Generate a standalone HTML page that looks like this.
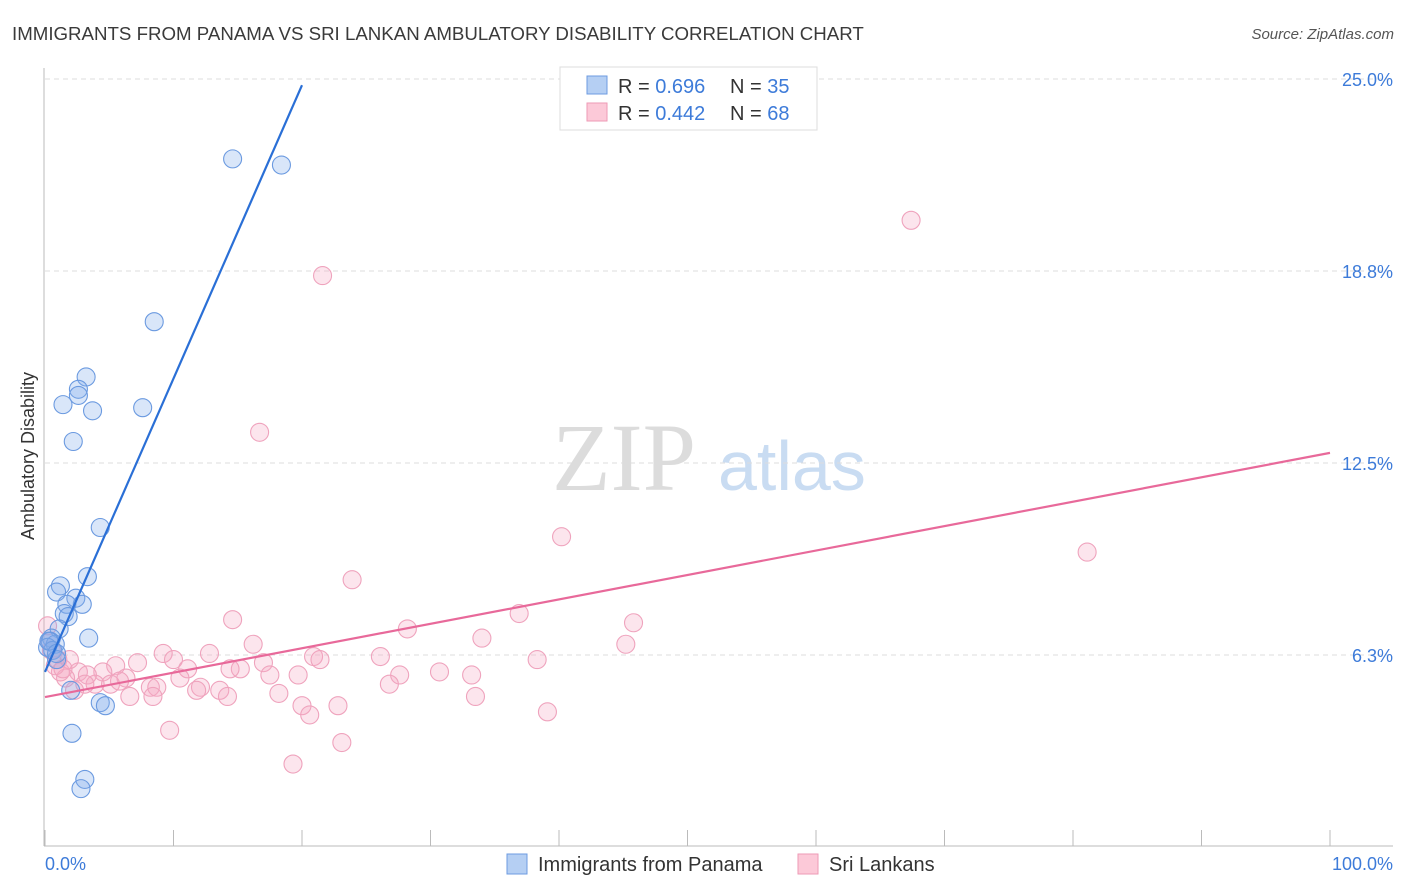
<!DOCTYPE html>
<html><head><meta charset="utf-8"><style>
body{margin:0;background:#fff;font-family:"Liberation Sans",sans-serif;}
svg{display:block}
</style></head><body>
<svg id="chart" width="1406" height="892" xmlns="http://www.w3.org/2000/svg">
<text x="12" y="40" font-size="18.7" fill="#3a3a3a">IMMIGRANTS FROM PANAMA VS SRI LANKAN AMBULATORY DISABILITY CORRELATION CHART</text>
<text x="1394" y="39" font-size="15" fill="#555" font-style="italic" text-anchor="end">Source: ZipAtlas.com</text>
<g>
<text x="552" y="490" font-family="Liberation Serif,serif" font-size="96" fill="#dcdcdc">ZIP</text>
<text x="718" y="490" font-size="70" fill="#c9dcf2">atlas</text>
</g>
<g id="grid"></g>
<line x1="44" y1="68" x2="44" y2="846" stroke="#bbb"/>
<line x1="44" y1="846" x2="1393" y2="846" stroke="#bbb"/>
<g id="xticks"></g>
<text x="45" y="870" font-size="18" fill="#3d7bd9">0.0%</text>
<text x="1393" y="870" font-size="18" fill="#3d7bd9" text-anchor="end">100.0%</text>
<text transform="translate(34,456) rotate(-90)" font-size="18" fill="#333" text-anchor="middle">Ambulatory Disability</text>
<g id="pink"></g>
<g id="blue"></g>
<g id="lines"></g>
<g>
<rect x="560" y="67" width="257" height="63" fill="#fff" stroke="#ddd"/>
<rect x="587" y="76" width="20" height="18" fill="#b5cff3" stroke="#6d9be0"/>
<rect x="587" y="103" width="20" height="18" fill="#fcc9d8" stroke="#ee9ab6"/>
<text x="618" y="93" font-size="20" fill="#333">R = <tspan fill="#3d7bd9">0.696</tspan><tspan x="730">N = </tspan><tspan fill="#3d7bd9">35</tspan></text>
<text x="618" y="120" font-size="20" fill="#333">R = <tspan fill="#3d7bd9">0.442</tspan><tspan x="730">N = </tspan><tspan fill="#3d7bd9">68</tspan></text>
</g>
<g>
<rect x="507" y="854" width="20" height="20" fill="#b5cff3" stroke="#6d9be0"/>
<text x="538" y="871" font-size="20" fill="#333">Immigrants from Panama</text>
<rect x="798" y="854" width="20" height="20" fill="#fcc9d8" stroke="#ee9ab6"/>
<text x="829" y="871" font-size="20" fill="#333">Sri Lankans</text>
</g>
</svg>
<script>
const yTicks=[6.25,12.5,18.75,25];
const yTickLabels=["6.3%","12.5%","18.8%","25.0%"];
const xTicks=[0,10,20,30,40,50,60,70,80,90,100];
const blueX=[14.6,18.4,8.5,3.2,2.6,2.6,1.4,3.7,7.6,2.2,4.3,3.3,1.2,0.9,2.4,2.9,1.7,1.5,1.8,1.1,3.4,0.5,0.4,0.8,0.2,0.6,0.9,2.0,4.3,4.7,2.1,3.1,2.8,0.3,0.9];
const blueY=[22.4,22.2,17.1,15.3,14.9,14.7,14.4,14.2,14.3,13.2,10.4,8.8,8.5,8.3,8.1,7.9,7.9,7.6,7.5,7.1,6.8,6.8,6.7,6.6,6.5,6.4,6.1,5.1,4.7,4.6,3.7,2.2,1.9,6.7,6.3];
const pinkX=[67.4,21.6,16.7,40.2,81.1,23.9,14.6,36.9,45.8,28.2,34.0,45.2,16.2,9.2,12.8,20.9,21.4,26.1,38.3,7.2,10.0,17.0,11.1,15.2,5.5,19.7,17.5,10.5,6.3,27.6,30.7,33.2,26.8,4.5,2.6,1.6,3.9,5.1,8.2,8.7,12.1,13.6,6.6,8.4,11.8,18.2,33.5,14.2,20.0,22.8,20.6,39.1,9.7,23.1,19.3,1.2,0.8,0.4,0.5,1.0,0.2,1.9,3.3,5.8,3.1,1.4,2.3,14.4];
const pinkY=[20.4,18.6,13.5,10.1,9.6,8.7,7.4,7.6,7.3,7.1,6.8,6.6,6.6,6.3,6.3,6.2,6.1,6.2,6.1,6.0,6.1,6.0,5.8,5.8,5.9,5.6,5.6,5.5,5.5,5.6,5.7,5.6,5.3,5.7,5.7,5.5,5.3,5.3,5.2,5.2,5.2,5.1,4.9,4.9,5.1,5.0,4.9,4.9,4.6,4.6,4.3,4.4,3.8,3.4,2.7,5.7,5.9,6.7,6.4,6.1,7.2,6.1,5.6,5.4,5.3,5.8,5.1,5.8];
const blueLine=[[0,5.7],[20,24.8]];
const pinkLine=[[0,4.88],[100,12.83]];
const NS="http://www.w3.org/2000/svg";
const sx=v=>45+v*12.85;
const sy=v=>847-v*30.72;
function mk(tag,attrs,parent){const e=document.createElementNS(NS,tag);for(const k in attrs)e.setAttribute(k,attrs[k]);parent.appendChild(e);return e;}
const grid=document.getElementById('grid');
yTicks.forEach((t,i)=>{
 const l=mk('line',{x1:45,x2:1393,y1:sy(t),y2:sy(t),stroke:'#ddd','stroke-dasharray':'5,4'},grid);
 
 
 const tx=mk('text',{x:1393,y:sy(t)+7,'font-size':18,fill:'#3d7bd9','text-anchor':'end'},grid);
 tx.textContent=yTickLabels[i];
 
 
});
const xt=document.getElementById('xticks');
xTicks.forEach(t=>{
 const l=mk('line',{x1:sx(t),x2:sx(t),y1:830,y2:846,stroke:'#bbb'},xt);
 
 
});
const pg=document.getElementById('pink');
pinkX.forEach((x,i)=>{
 const c=mk('circle',{cx:sx(x),cy:sy(pinkY[i]),r:9,fill:'rgba(246,170,196,0.3)',stroke:'#efa3bd','stroke-width':1.1},pg);
 
 
});
const bg=document.getElementById('blue');
blueX.forEach((x,i)=>{
 const c=mk('circle',{cx:sx(x),cy:sy(blueY[i]),r:9,fill:'rgba(130,172,235,0.3)',stroke:'#6b9ae0','stroke-width':1.1},bg);
 
 
});
const lg=document.getElementById('lines');
const bl=mk('line',{x1:sx(blueLine[0][0]),y1:sy(blueLine[0][1]),x2:sx(blueLine[1][0]),y2:sy(blueLine[1][1]),stroke:'#2a6fd6','stroke-width':2.2},lg);


const pl=mk('line',{x1:sx(pinkLine[0][0]),y1:sy(pinkLine[0][1]),x2:sx(pinkLine[1][0]),y2:sy(pinkLine[1][1]),stroke:'#e8699a','stroke-width':2.2},lg);


</script>
</body></html>
